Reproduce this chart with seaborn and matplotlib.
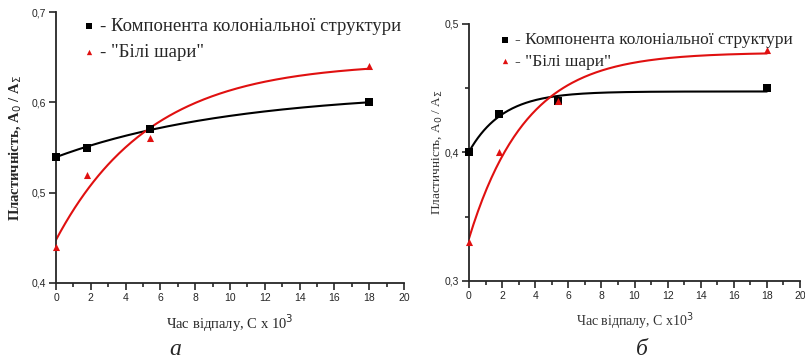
import numpy as np
import pandas as pd
import matplotlib
matplotlib.use("Agg")
import matplotlib.pyplot as plt
from matplotlib.ticker import MultipleLocator, FuncFormatter
import seaborn as sns

# --- data ---
anneal_time = [0, 1.8, 5.4, 18]          # x10^3 s
# panel а
col_a = [0.54, 0.55, 0.57, 0.60]
white_a = [0.44, 0.52, 0.56, 0.64]
# panel б
col_b = [0.40, 0.43, 0.44, 0.45]
white_b = [0.33, 0.40, 0.44, 0.48]

label_col = "- Компонента колоніальної структури"
label_white = '- "Білі шари"'


def fit_exp(x, y):
    # y = A - B*exp(-x/t), t by grid search, A and B by least squares
    x = np.asarray(x, float)
    y = np.asarray(y, float)
    best = None
    for t in np.logspace(-0.5, 3, 3000):
        M = np.column_stack([np.ones_like(x), np.exp(-x / t)])
        coef, *_ = np.linalg.lstsq(M, y, rcond=None)
        err = np.sum((M @ coef - y) ** 2)
        if best is None or err < best[0]:
            best = (err, coef, t)
    _, coef, t = best
    xs = np.linspace(0, max(x), 200)
    return xs, coef[0] + coef[1] * np.exp(-xs / t)


def comma(v, pos):
    return f"{v:.1f}".replace(".", ",")


def draw_panel(ax, col, white, ylim, ymajor, yminor, legend_size, anchor, spacing):
    df = pd.DataFrame({"t": anneal_time, "col": col, "white": white})
    for key, color, marker, ms, lab in [("col", "black", "s", 30, label_col),
                                         ("white", "#e01010", "^", 26, label_white)]:
        xs, ys = fit_exp(df["t"], df[key])
        sns.lineplot(x=xs, y=ys, ax=ax, color=color, lw=1.5)
        sns.scatterplot(data=df, x="t", y=key, ax=ax, color=color, marker=marker,
                        s=ms, edgecolor=color, linewidth=0, label=lab, zorder=5,
                        clip_on=False)
    ax.set_xlim(0, 20)
    ax.set_ylim(*ylim)
    ax.xaxis.set_major_locator(MultipleLocator(2))
    ax.xaxis.set_minor_locator(MultipleLocator(1))
    ax.yaxis.set_major_locator(MultipleLocator(ymajor))
    if yminor:
        ax.yaxis.set_minor_locator(MultipleLocator(yminor))
    ax.yaxis.set_major_formatter(FuncFormatter(comma))
    ax.tick_params(which="major", direction="out", length=5, width=1.2,
                   labelsize=7.5, pad=2)
    ax.tick_params(which="minor", direction="out", length=3, width=1.2)
    for lbl in ax.get_xticklabels() + ax.get_yticklabels():
        lbl.set_fontfamily("Liberation Sans")
    for s in ["left", "bottom"]:
        ax.spines[s].set_linewidth(1.3)
    sns.despine(ax=ax)
    ax.legend(loc="upper left", bbox_to_anchor=anchor, frameon=False,
              handletextpad=0.2, handlelength=0.7, labelspacing=spacing,
              borderaxespad=0,
              prop={"family": "Liberation Serif", "size": legend_size},
              markerscale=0.75)


sns.set_theme(style="ticks")
plt.rcParams["font.family"] = ["Liberation Serif", "DejaVu Sans"]

fig = plt.figure(figsize=(8.05, 3.59), dpi=100)
ax1 = fig.add_axes([0.0696, 0.2117, 0.4323, 0.7548])
ax2 = fig.add_axes([0.5826, 0.2173, 0.4112, 0.7159])

draw_panel(ax1, col_a, white_a, (0.4, 0.7), 0.1, None, 13.5, (0.055, 1.005), 0.45)
draw_panel(ax2, col_b, white_b, (0.3, 0.5), 0.1, 0.05, 12.5, (0.07, 0.995), 0.3)

ax1.set_ylabel(r"Пластичність, A$_0$ / A$_\Sigma$", fontsize=10.5,
               fontweight="bold", labelpad=6)
ax1.set_xlabel(r"Час відпалу, С x 10$^3$", fontsize=10.5, labelpad=7)
ax2.set_ylabel(r"Пластичність, A$_0$ / A$_\Sigma$", fontsize=9.5,
               labelpad=1, color="#333333")
ax2.set_xlabel(r"Час відпалу, С x10$^3$", fontsize=10, labelpad=7,
               color="#333333")

fig.text(0.218, 0.012, "а", style="italic", fontsize=17, ha="center")
fig.text(0.797, 0.012, "б", style="italic", fontsize=17, ha="center")

fig.savefig("out.png", dpi=100)
